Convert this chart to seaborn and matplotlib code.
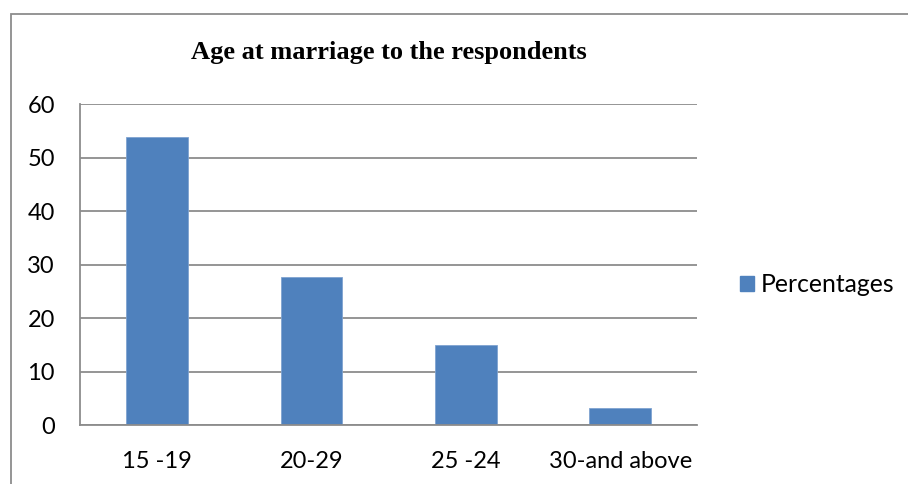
import matplotlib
matplotlib.use("Agg")
import matplotlib.pyplot as plt
import seaborn as sns
import pandas as pd
from matplotlib.patches import Rectangle
from matplotlib.ticker import FixedLocator

categories = ["15 -19", "20-29", "25 -24", "30-and above"]
percentages = [53.8, 27.8, 15.0, 3.3]
yticks = [0, 10, 20, 30, 40, 50, 60]
title = "Age at marriage to the respondents"
legend_label = "Percentages"

sns.set_style("white")
plt.rcParams["font.family"] = ["Lato", "DejaVu Sans"]
plt.rcParams["text.color"] = "black"

df = pd.DataFrame({"Age": categories, "Value": percentages})

fig = plt.figure(figsize=(9.08, 4.84), dpi=100)
ax = fig.add_axes([0.088, 0.121, 0.680, 0.664])

bar_color = "#4F81BD"
sns.barplot(data=df, x="Age", y="Value", color=bar_color, width=0.4,
            ax=ax, saturation=1, edgecolor="#7FA3D1", linewidth=0.6)

ax.set_xlim(-0.5, 3.5)
ax.set_ylim(0, 60)
ax.set_yticks(yticks)
ax.yaxis.grid(True, color="#8C8C8C", linewidth=1.3)
ax.set_axisbelow(True)
ax.set_xlabel("")
ax.set_ylabel("")

for s in ["top", "right"]:
    ax.spines[s].set_visible(False)
for s in ["left", "bottom"]:
    ax.spines[s].set_color("#8C8C8C")
    ax.spines[s].set_linewidth(1.3)

ax.tick_params(axis="x", which="major", length=0, pad=18.5, labelsize=17, labelcolor="#000000")
ax.xaxis.set_minor_locator(FixedLocator([-0.5, 0.5, 1.5, 2.5, 3.5]))
ax.tick_params(axis="x", which="minor", length=7, width=1.3, color="#8C8C8C", direction="out")
ax.tick_params(axis="y", length=7, width=1.3, color="#8C8C8C", direction="out",
               labelsize=17, pad=11, labelcolor="#000000")

fig.text(0.428, 0.892, title, ha="center", va="center", fontsize=19,
         fontweight="bold", family="Liberation Serif", color="black")

# legend
fig.patches.append(Rectangle((740 / 908, 1 - 291 / 484), 14 / 908, 15 / 484,
                             transform=fig.transFigure, color=bar_color, figure=fig))
fig.text(761 / 908, 1 - 284 / 484, legend_label, ha="left", va="center", fontsize=17.8,
         color="black")

# chart border
fig.patches.append(Rectangle((11 / 908, -0.05), 1.0, 1 - 14 / 484 + 0.05,
                             transform=fig.transFigure, fill=False,
                             edgecolor="#8C8C8C", linewidth=1.3, figure=fig))

fig.savefig("out.png", dpi=100)
